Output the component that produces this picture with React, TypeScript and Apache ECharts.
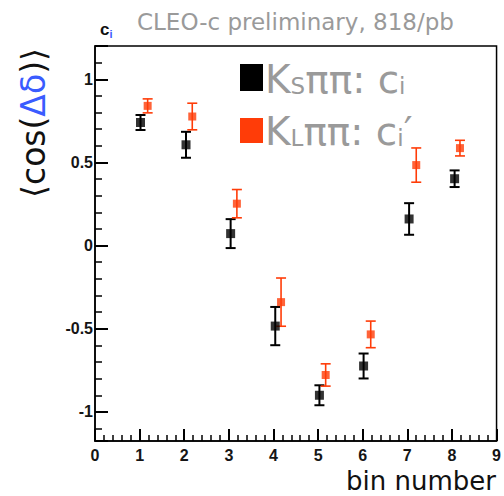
import React, { useEffect, useRef } from "react";
import * as echarts from "echarts";

// KS pi pi : c_i (black)
const ksBin = [1.02, 2.04, 3.04, 4.04, 5.03, 6.02, 7.04, 8.06];
const ksVal = [0.74, 0.606, 0.072, -0.484, -0.9, -0.724, 0.16, 0.402];
const ksErr = [0.045, 0.078, 0.087, 0.115, 0.06, 0.075, 0.095, 0.05];
// KL pi pi : c_i' (red)
const klBin = [1.18, 2.18, 3.18, 4.17, 5.17, 6.18, 7.2, 8.18];
const klVal = [0.84, 0.776, 0.252, -0.34, -0.778, -0.534, 0.484, 0.586];
const klErr = [0.042, 0.08, 0.085, 0.145, 0.067, 0.08, 0.103, 0.047];

const xTickLabels = ["0", "1", "2", "3", "4", "5", "6", "7", "8", "9"];

const BLACK = "#000000";
const RED = "#ff3c08";
const GRAY = "#9a9a9a";
const BLUE = "#3a5cff";

function errorBar(color: string, width: number) {
  return (params: any, api: any) => {
    const x = api.value(0);
    const y = api.value(1);
    const e = api.value(2);
    const top = api.coord([x, y + e]);
    const bot = api.coord([x, y - e]);
    const half = 5;
    const st = { stroke: color, lineWidth: width };
    return {
      type: "group",
      children: [
        { type: "line", shape: { x1: top[0], y1: top[1], x2: bot[0], y2: bot[1] }, style: st },
        { type: "line", shape: { x1: top[0] - half, y1: top[1], x2: top[0] + half, y2: top[1] }, style: st },
        { type: "line", shape: { x1: bot[0] - half, y1: bot[1], x2: bot[0] + half, y2: bot[1] }, style: st },
      ],
    };
  };
}

export default function App() {
  const ref = useRef<HTMLDivElement>(null);
  useEffect(() => {
    if (!ref.current) return;
    const chart = echarts.init(ref.current, null, { renderer: "svg" });
    const ks = ksBin.map((b, i) => [b, ksVal[i], ksErr[i]]);
    const kl = klBin.map((b, i) => [b, klVal[i], klErr[i]]);
    const labelStyle = {
      fontFamily: "Liberation Sans",
      fontWeight: "bold" as const,
      fontSize: 16,
      color: "#151515",
    };
    chart.setOption({
      animation: false,
      grid: {
        left: 95,
        top: 46,
        right: 3,
        bottom: 55,
        show: true,
        borderColor: "#000",
        borderWidth: 1.5,
        backgroundColor: "transparent",
      },
      xAxis: {
        type: "value",
        min: 0,
        max: 9,
        interval: 1,
        axisLine: { show: true, onZero: false, lineStyle: { color: "#000", width: 1.5 } },
        axisTick: { show: true, inside: true, length: 12, lineStyle: { color: "#000", width: 2 } },
        minorTick: { show: true, splitNumber: 5, length: 6, lineStyle: { color: "#000", width: 1.5 } },
        splitLine: { show: false },
        axisLabel: {
          ...labelStyle,
          margin: 6,
          formatter: (v: number) => xTickLabels[Math.round(v)] ?? "",
        },
      },
      yAxis: {
        type: "value",
        min: -1.175,
        max: 1.2,
        splitNumber: 5,
        axisLine: { show: true, onZero: false, lineStyle: { color: "#000", width: 1.5 } },
        axisTick: { show: true, inside: true, length: 13, lineStyle: { color: "#000", width: 2 } },
        minorTick: { show: true, splitNumber: 5, length: 7, lineStyle: { color: "#000", width: 1.5 } },
        splitLine: { show: false },
        axisLabel: {
          ...labelStyle,
          margin: 2,
          showMinLabel: false,
          showMaxLabel: false,
          formatter: (v: number) => (Math.abs(v) < 1e-9 ? "0" : String(v)),
        },
      },
      series: [
        {
          type: "custom",
          renderItem: errorBar(BLACK, 2),
          data: ks,
          z: 2,
        },
        {
          type: "custom",
          renderItem: errorBar(RED, 1.6),
          data: kl,
          z: 2,
        },
        {
          type: "scatter",
          symbol: "rect",
          symbolSize: [9, 9],
          itemStyle: { color: BLACK },
          data: ks.map((d) => [d[0], d[1]]),
          z: 3,
        },
        {
          type: "scatter",
          symbol: "rect",
          symbolSize: [8, 8],
          itemStyle: { color: RED },
          data: kl.map((d) => [d[0], d[1]]),
          z: 3,
        },
      ],
      graphic: [
        {
          type: "text",
          x: 137,
          y: 22,
          style: {
            text: "CLEO-c preliminary, 818/pb",
            fontFamily: "DejaVu Sans",
            fontSize: 23,
            fill: GRAY,
            verticalAlign: "middle",
          },
        },
        {
          type: "text",
          x: 100,
          y: 29,
          style: {
            text: "{c|c}{i|i}",
            verticalAlign: "middle",
            rich: {
              c: { fontFamily: "Liberation Sans", fontWeight: "bold", fontSize: 17, fill: "#111" },
              i: { fontFamily: "Liberation Sans", fontWeight: "bold", fontSize: 11, fill: BLUE, padding: [9, 0, 0, 0] },
            },
          },
        },
        {
          type: "text",
          x: 33,
          y: 123,
          rotation: Math.PI / 2,
          style: {
            text: "{k|⟨cos(}{b|Δδ}{k|)⟩}",
            align: "center",
            verticalAlign: "middle",
            rich: {
              k: { fontFamily: "DejaVu Sans", fontSize: 33, fill: "#111" },
              b: { fontFamily: "DejaVu Sans", fontSize: 33, fill: BLUE },
            },
          },
        },
        { type: "rect", shape: { x: 240, y: 64, width: 23, height: 27 }, style: { fill: BLACK } },
        { type: "rect", shape: { x: 240, y: 118, width: 23, height: 25 }, style: { fill: RED } },
        {
          type: "text",
          x: 265,
          y: 79,
          style: {
            text: "{a|K}{s|S}{a|ππ: c}{s|i}",
            verticalAlign: "middle",
            rich: {
              a: { fontFamily: "DejaVu Sans", fontSize: 39, fill: GRAY },
              s: { fontFamily: "DejaVu Sans", fontSize: 23, fill: GRAY, padding: [14, 0, 0, 0] },
            },
          },
        },
        {
          type: "text",
          x: 265,
          y: 131,
          style: {
            text: "{a|K}{s|L}{a|ππ: c}{s|i}{a|′}",
            verticalAlign: "middle",
            rich: {
              a: { fontFamily: "DejaVu Sans", fontSize: 39, fill: GRAY },
              s: { fontFamily: "DejaVu Sans", fontSize: 23, fill: GRAY, padding: [14, 0, 0, 0] },
            },
          },
        },
        {
          type: "text",
          x: 496,
          y: 481,
          style: {
            text: "bin number",
            fontFamily: "DejaVu Sans",
            fontSize: 26,
            fill: "#111",
            align: "right",
            verticalAlign: "middle",
          },
        },
      ],
    });
    return () => chart.dispose();
  }, []);
  return (
    <div style={{ position: "absolute", left: 0, top: 0, width: 504, height: 496, background: "#fff" }}>
      <div ref={ref} style={{ width: 504, height: 496 }} />
    </div>
  );
}
